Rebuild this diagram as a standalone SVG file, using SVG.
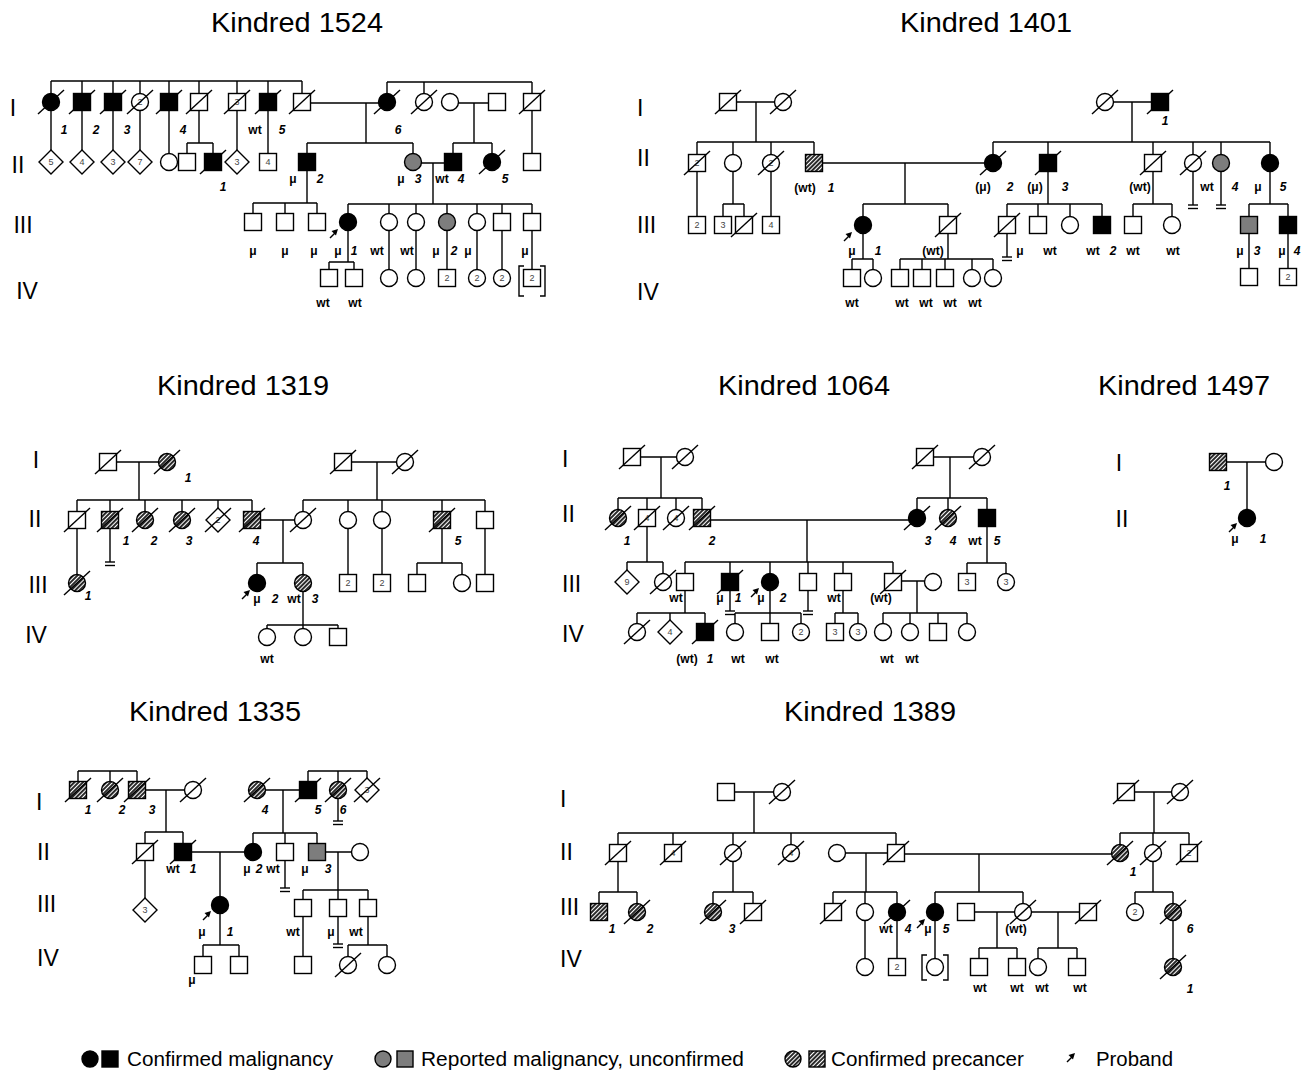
<svg xmlns="http://www.w3.org/2000/svg" width="1308" height="1078" viewBox="0 0 1308 1078">
<style>
.o{fill:#fff;stroke:#000;stroke-width:1.4}
.f{fill:#000;stroke:#000;stroke-width:1.4}
.g{fill:#7d7d7d;stroke:#000;stroke-width:1.4}
.h{fill:url(#hatch);stroke:#000;stroke-width:1.4}
.cn{fill:none;stroke:#000;stroke-width:1.4}
text{font-family:"Liberation Sans",Arial,sans-serif;fill:#000}
.tt{font-size:28px;text-anchor:middle}
.gn{font-size:23px}
.gm{font-size:23px;text-anchor:middle}
.l{font-size:12px;font-weight:bold;text-anchor:middle}
.i{font-size:12px;font-weight:bold;font-style:italic;text-anchor:middle}
.n{font-size:9px;fill:#444;text-anchor:middle}
.lg{font-size:20px}
</style>
<defs>
<pattern id="hatch" width="3" height="3" patternUnits="userSpaceOnUse" patternTransform="rotate(45)"><rect width="3" height="3" fill="#fff"/><rect width="2" height="3" fill="#2a2a2a"/></pattern>
<rect id="S" x="-8.5" y="-8.5" width="17" height="17"/>
<circle id="C" r="8.5"/>
<path id="D" d="M0,-12L12,0L0,12L-12,0Z"/>
<line id="X" x1="-13" y1="12" x2="13" y2="-12" stroke="#000" stroke-width="1.4"/>
<g id="NB" stroke="#000" stroke-width="1.4"><line x1="-5" y1="0" x2="5" y2="0"/><line x1="-5" y1="3.5" x2="5" y2="3.5"/></g>
<g id="AR"><line x1="-8" y1="9" x2="-2" y2="3" stroke="#000" stroke-width="1.4"/><path d="M0,0L-6.5,2L-2,6.5Z" fill="#000"/></g>
</defs>
<rect width="1308" height="1078" fill="#fff"/>

<g id="titles">
<text class="tt" x="297" y="32" textLength="172" lengthAdjust="spacingAndGlyphs">Kindred 1524</text>
<text class="tt" x="986" y="32" textLength="172" lengthAdjust="spacingAndGlyphs">Kindred 1401</text>
<text class="tt" x="243" y="395" textLength="172" lengthAdjust="spacingAndGlyphs">Kindred 1319</text>
<text class="tt" x="804" y="395" textLength="172" lengthAdjust="spacingAndGlyphs">Kindred 1064</text>
<text class="tt" x="1184" y="395" textLength="172" lengthAdjust="spacingAndGlyphs">Kindred 1497</text>
<text class="tt" x="215" y="721" textLength="172" lengthAdjust="spacingAndGlyphs">Kindred 1335</text>
<text class="tt" x="870" y="721" textLength="172" lengthAdjust="spacingAndGlyphs">Kindred 1389</text>
</g>

<g id="generations">
<text class="gm" x="13" y="116">I</text><text class="gm" x="18" y="173">II</text><text class="gm" x="23" y="233">III</text><text class="gm" x="27" y="299">IV</text>
<text class="gn" x="637" y="116">I</text><text class="gn" x="637" y="166">II</text><text class="gn" x="637" y="233">III</text><text class="gn" x="637" y="300">IV</text>
<text class="gm" x="36" y="468">I</text><text class="gm" x="35" y="527">II</text><text class="gm" x="38" y="593">III</text><text class="gm" x="36" y="643">IV</text>
<text class="gn" x="562" y="467">I</text><text class="gn" x="562" y="522">II</text><text class="gn" x="562" y="592">III</text><text class="gn" x="562" y="642">IV</text>
<text class="gm" x="1119" y="471">I</text><text class="gm" x="1122" y="527">II</text>
<text class="gn" x="36" y="810">I</text><text class="gn" x="37" y="860">II</text><text class="gn" x="37" y="912">III</text><text class="gn" x="37" y="966">IV</text>
<text class="gn" x="560" y="807">I</text><text class="gn" x="560" y="860">II</text><text class="gn" x="560" y="915">III</text><text class="gn" x="560" y="967">IV</text>
</g>

<g id="connectors" class="cn">
<path d="M51,81H302 M51,81V102 M82,81V102 M113,81V102 M140,81V102 M169,81V102 M199,81V102 M237,81V102 M268,81V102 M302,81V102 M51,102V162 M82,102V162 M113,102V162 M140,102V162 M169,102V162 M199,102V143 M187,143H213 M187,143V162 M213,143V162 M237,102V162 M268,102V162 M302,103H387 M366,103V143 M307,143H413 M307,143V162 M413,143V162 M387,82H532 M387,82V102 M424,82V102 M532,82V162 M450,103H497 M474,103V143 M453,143H492 M453,143V162 M492,143V162 M413,163H453 M433,163V204 M307,162V203 M253,203H317 M253,203V222 M285,203V222 M317,203V222 M348,204H532 M348,204V222 M389,204V222 M416,204V222 M447,204V222 M477,204V222 M502,204V222 M532,204V222 M348,222V262 M329,262H354 M329,262V278 M354,262V278 M389,222V278 M416,222V278 M447,222V278 M477,222V278 M502,222V278 M532,222V278"/>
<path d="M736,102H775 M756,102V142 M697,142H814 M697,142V163 M733,142V163 M771,142V163 M814,142V163 M697,163V225 M733,163V204 M723,204H744 M723,204V225 M744,204V225 M771,163V225 M814,163H993 M905,163V204 M863,204H948 M863,204V225 M948,204V225 M863,225V259 M852,259H873 M852,259V278 M873,259V278 M948,225V259 M900,259H993 M900,259V278 M922,259V278 M945,259V278 M972,259V278 M993,259V278 M1105,102H1160 M1132,102V142 M993,142H1270 M993,142V163 M1048,142V163 M1153,142V163 M1193,142V163 M1221,142V163 M1270,142V163 M1193,163V205 M1221,163V205 M1048,163V204 M1007,204H1102 M1007,204V225 M1038,204V225 M1070,204V225 M1102,204V225 M1007,225V257 M1153,163V204 M1133,204H1172 M1133,204V225 M1172,204V225 M1270,163V204 M1249,204H1288 M1249,204V225 M1288,204V225 M1249,225V277 M1288,225V277"/>
<path d="M108,462H167 M139,462V500 M77,500H252 M77,500V520 M110,500V520 M145,500V520 M182,500V520 M218,500V520 M252,500V520 M77,520V583 M110,520V562 M252,520H303 M283,520V563 M257,563H303 M257,563V583 M303,563V583 M303,583V625 M267,625H338 M267,625V637 M303,625V637 M338,625V637 M343,462H405 M377,462V500 M303,500H485 M303,500V520 M348,500V520 M382,500V520 M442,500V520 M485,500V520 M348,520V583 M382,520V583 M442,520V563 M417,563H462 M417,563V583 M462,563V583 M485,520V583"/>
<path d="M632,457H685 M661,457V498 M618,498H702 M618,498V518 M647,498V518 M676,498V518 M702,498V518 M647,518V562 M627,562H663 M627,562V582 M663,562V582 M702,520H917 M807,520V562 M685,562H893 M685,562V582 M730,562V582 M770,562V582 M808,562V582 M843,562V582 M893,562V582 M925,457H982 M950,457V498 M917,498H987 M917,498V518 M948,498V518 M987,498V518 M987,518V563 M967,563H1006 M967,563V582 M1006,563V582 M730,582V611 M808,582V611 M893,581H933 M917,581V613 M883,613H967 M883,613V632 M910,613V632 M938,613V632 M967,613V632 M685,582V613 M637,613H705 M637,613V632 M670,613V632 M705,613V632 M770,582V613 M735,613H801 M735,613V632 M770,613V632 M801,613V632 M843,582V613 M835,613H858 M835,613V632 M858,613V632"/>
<path d="M1218,462H1274 M1247,462V518"/>
<path d="M78,771H137 M78,771V790 M110,771V790 M137,771V790 M137,790H193 M166,790V832 M145,832H183 M145,832V852 M183,832V852 M145,852V910 M257,790H308 M283,790V833 M253,833H317 M253,833V852 M285,833V852 M317,833V852 M308,771H367 M308,771V790 M338,771V790 M367,771V790 M338,790V821 M183,852H253 M220,852V905 M285,852V888 M317,852H360 M338,852V890 M303,890H368 M303,890V908 M338,890V908 M368,890V908 M338,908V944 M220,905V945 M203,945H239 M203,945V965 M239,945V965 M303,908V965 M368,908V945 M348,945H387 M348,945V965 M387,945V965"/>
<path d="M726,792H782 M754,792V833 M618,833H896 M618,833V853 M673,833V853 M733,833V853 M791,833V853 M896,833V853 M618,853V892 M599,892H637 M599,892V912 M637,892V912 M733,853V892 M713,892H753 M713,892V912 M753,892V912 M837,853H896 M866,853V892 M833,892H897 M833,892V912 M865,892V912 M897,892V912 M896,854H1120 M979,854V892 M935,892H1023 M935,892V912 M1023,892V912 M865,912V967 M897,912V967 M935,912V967 M966,912H1023 M997,912V948 M979,948H1017 M979,948V967 M1017,948V967 M1023,912H1088 M1058,912V948 M1038,948H1077 M1038,948V967 M1077,948V967 M1126,792H1180 M1154,792V833 M1120,833H1189 M1120,833V853 M1153,833V853 M1189,833V853 M1153,853V892 M1135,892H1173 M1135,892V912 M1173,892V912 M1173,912V967"/>
<use href="#NB" x="1193" y="205"/><use href="#NB" x="1221" y="205"/><use href="#NB" x="1007" y="257"/>
<use href="#NB" x="110" y="562"/>
<use href="#NB" x="730" y="611"/><use href="#NB" x="808" y="611"/>
<use href="#NB" x="338" y="821"/><use href="#NB" x="285" y="888"/><use href="#NB" x="338" y="944"/>
</g>

<g id="kindred-1524">
<g id="k1524-I-1"><use href="#C" x="51" y="102" class="f"/><use href="#X" x="51" y="102"/></g>
<g id="k1524-I-2"><use href="#S" x="82" y="102" class="f"/><use href="#X" x="82" y="102"/></g>
<g id="k1524-I-3"><use href="#S" x="113" y="102" class="f"/><use href="#X" x="113" y="102"/></g>
<g id="k1524-I-a"><use href="#C" x="140" y="102" class="o"/><text class="n" x="140" y="105">2</text><use href="#X" x="140" y="102"/></g>
<g id="k1524-I-4"><use href="#S" x="169" y="102" class="f"/><use href="#X" x="169" y="102"/></g>
<g id="k1524-I-b"><use href="#S" x="199" y="102" class="o"/><use href="#X" x="199" y="102"/></g>
<g id="k1524-I-c"><use href="#S" x="237" y="102" class="o"/><text class="n" x="237" y="105">3</text><use href="#X" x="237" y="102"/></g>
<g id="k1524-I-5"><use href="#S" x="268" y="102" class="f"/><use href="#X" x="268" y="102"/></g>
<g id="k1524-I-d"><use href="#S" x="302" y="102" class="o"/><use href="#X" x="302" y="102"/></g>
<g id="k1524-I-6"><use href="#C" x="387" y="102" class="f"/><use href="#X" x="387" y="102"/></g>
<g id="k1524-I-e"><use href="#C" x="424" y="102" class="o"/><use href="#X" x="424" y="102"/></g>
<g id="k1524-I-f"><use href="#C" x="450" y="102" class="o"/></g>
<g id="k1524-I-g"><use href="#S" x="497" y="102" class="o"/></g>
<g id="k1524-I-h"><use href="#S" x="532" y="102" class="o"/><use href="#X" x="532" y="102"/></g>
<g id="k1524-II-a"><use href="#D" x="51" y="162" class="o"/><text class="n" x="51" y="165">5</text></g>
<g id="k1524-II-b"><use href="#D" x="82" y="162" class="o"/><text class="n" x="82" y="165">4</text></g>
<g id="k1524-II-c"><use href="#D" x="113" y="162" class="o"/><text class="n" x="113" y="165">3</text></g>
<g id="k1524-II-d"><use href="#D" x="140" y="162" class="o"/><text class="n" x="140" y="165">7</text></g>
<g id="k1524-II-e"><use href="#C" x="169" y="162" class="o"/></g>
<g id="k1524-II-f"><use href="#S" x="187" y="162" class="o"/></g>
<g id="k1524-II-1"><use href="#S" x="213" y="162" class="f"/><use href="#X" x="213" y="162"/></g>
<g id="k1524-II-g"><use href="#D" x="237" y="162" class="o"/><text class="n" x="237" y="165">3</text></g>
<g id="k1524-II-h"><use href="#S" x="268" y="162" class="o"/><text class="n" x="268" y="165">4</text></g>
<g id="k1524-II-2"><use href="#S" x="307" y="162" class="f"/></g>
<g id="k1524-II-3"><use href="#C" x="413" y="162" class="g"/></g>
<g id="k1524-II-4"><use href="#S" x="453" y="162" class="f"/></g>
<g id="k1524-II-5"><use href="#C" x="492" y="162" class="f"/><use href="#X" x="492" y="162"/></g>
<g id="k1524-II-i"><use href="#S" x="532" y="162" class="o"/></g>
<g id="k1524-III-a"><use href="#S" x="253" y="222" class="o"/></g>
<g id="k1524-III-b"><use href="#S" x="285" y="222" class="o"/></g>
<g id="k1524-III-c"><use href="#S" x="317" y="222" class="o"/></g>
<g id="k1524-III-1"><use href="#C" x="348" y="222" class="f"/><use href="#AR" x="338" y="229"/></g>
<g id="k1524-III-d"><use href="#C" x="389" y="222" class="o"/></g>
<g id="k1524-III-e"><use href="#C" x="416" y="222" class="o"/></g>
<g id="k1524-III-2"><use href="#C" x="447" y="222" class="g"/></g>
<g id="k1524-III-f"><use href="#C" x="477" y="222" class="o"/></g>
<g id="k1524-III-g"><use href="#S" x="502" y="222" class="o"/></g>
<g id="k1524-III-h"><use href="#S" x="532" y="222" class="o"/></g>
<g id="k1524-IV-a"><use href="#S" x="329" y="278" class="o"/></g>
<g id="k1524-IV-b"><use href="#S" x="354" y="278" class="o"/></g>
<g id="k1524-IV-c"><use href="#C" x="389" y="278" class="o"/></g>
<g id="k1524-IV-d"><use href="#C" x="416" y="278" class="o"/></g>
<g id="k1524-IV-e"><use href="#S" x="447" y="278" class="o"/><text class="n" x="447" y="281">2</text></g>
<g id="k1524-IV-f"><use href="#C" x="477" y="278" class="o"/><text class="n" x="477" y="281">2</text></g>
<g id="k1524-IV-g"><use href="#C" x="502" y="278" class="o"/><text class="n" x="502" y="281">2</text></g>
<g id="k1524-IV-h"><use href="#S" x="532" y="278" class="o"/><text class="n" x="532" y="281">2</text><path class="cn" d="M524,266H519V296H524 M540,266H545V296H540"/></g>
<g id="k1524-labels">
<text class="i" x="64" y="134">1</text><text class="i" x="96" y="134">2</text><text class="i" x="127" y="134">3</text><text class="i" x="183" y="134">4</text><text class="l" x="255" y="134">wt</text><text class="i" x="282" y="134">5</text><text class="i" x="398" y="134">6</text>
<text class="i" x="223" y="191">1</text><text class="l" x="293" y="183">μ</text><text class="i" x="320" y="183">2</text><text class="l" x="401" y="183">μ</text><text class="i" x="418" y="183">3</text><text class="l" x="442" y="183">wt</text><text class="i" x="461" y="183">4</text><text class="i" x="505" y="183">5</text>
<text class="l" x="253" y="255">μ</text><text class="l" x="285" y="255">μ</text><text class="l" x="314" y="255">μ</text><text class="l" x="338" y="255">μ</text><text class="i" x="354" y="255">1</text><text class="l" x="377" y="255">wt</text><text class="l" x="407" y="255">wt</text><text class="l" x="436" y="255">μ</text><text class="i" x="454" y="255">2</text><text class="l" x="468" y="255">μ</text><text class="l" x="525" y="255">μ</text>
<text class="l" x="323" y="307">wt</text><text class="l" x="355" y="307">wt</text>
</g>
</g>

<g id="kindred-1401">
<g id="k1401-I-a"><use href="#S" x="728" y="102" class="o"/><use href="#X" x="728" y="102"/></g>
<g id="k1401-I-b"><use href="#C" x="783" y="102" class="o"/><use href="#X" x="783" y="102"/></g>
<g id="k1401-I-c"><use href="#C" x="1105" y="102" class="o"/><use href="#X" x="1105" y="102"/></g>
<g id="k1401-I-1"><use href="#S" x="1160" y="102" class="f"/><use href="#X" x="1160" y="102"/></g>
<g id="k1401-II-a"><use href="#S" x="697" y="163" class="o"/><text class="n" x="697" y="166">2</text><use href="#X" x="697" y="163"/></g>
<g id="k1401-II-b"><use href="#C" x="733" y="163" class="o"/></g>
<g id="k1401-II-c"><use href="#C" x="771" y="163" class="o"/><text class="n" x="771" y="166">2</text><use href="#X" x="771" y="163"/></g>
<g id="k1401-II-1"><use href="#S" x="814" y="163" class="h"/></g>
<g id="k1401-II-2"><use href="#C" x="993" y="163" class="f"/><use href="#X" x="993" y="163"/></g>
<g id="k1401-II-3"><use href="#S" x="1048" y="163" class="f"/><use href="#X" x="1048" y="163"/></g>
<g id="k1401-II-d"><use href="#S" x="1153" y="163" class="o"/><use href="#X" x="1153" y="163"/></g>
<g id="k1401-II-e"><use href="#C" x="1193" y="163" class="o"/><use href="#X" x="1193" y="163"/></g>
<g id="k1401-II-4"><use href="#C" x="1221" y="163" class="g"/></g>
<g id="k1401-II-5"><use href="#C" x="1270" y="163" class="f"/></g>
<g id="k1401-III-a"><use href="#S" x="697" y="225" class="o"/><text class="n" x="697" y="228">2</text></g>
<g id="k1401-III-b"><use href="#S" x="723" y="225" class="o"/><text class="n" x="723" y="228">3</text></g>
<g id="k1401-III-c"><use href="#S" x="744" y="225" class="o"/><use href="#X" x="744" y="225"/></g>
<g id="k1401-III-d"><use href="#S" x="771" y="225" class="o"/><text class="n" x="771" y="228">4</text></g>
<g id="k1401-III-1"><use href="#C" x="863" y="225" class="f"/><use href="#AR" x="852" y="232"/></g>
<g id="k1401-III-e"><use href="#S" x="948" y="225" class="o"/><use href="#X" x="948" y="225"/></g>
<g id="k1401-III-f"><use href="#S" x="1007" y="225" class="o"/><use href="#X" x="1007" y="225"/></g>
<g id="k1401-III-g"><use href="#S" x="1038" y="225" class="o"/></g>
<g id="k1401-III-h"><use href="#C" x="1070" y="225" class="o"/></g>
<g id="k1401-III-2"><use href="#S" x="1102" y="225" class="f"/></g>
<g id="k1401-III-i"><use href="#S" x="1133" y="225" class="o"/></g>
<g id="k1401-III-j"><use href="#C" x="1172" y="225" class="o"/></g>
<g id="k1401-III-3"><use href="#S" x="1249" y="225" class="g"/></g>
<g id="k1401-III-4"><use href="#S" x="1288" y="225" class="f"/></g>
<g id="k1401-IV-a"><use href="#S" x="852" y="278" class="o"/></g>
<g id="k1401-IV-b"><use href="#C" x="873" y="278" class="o"/></g>
<g id="k1401-IV-c"><use href="#S" x="900" y="278" class="o"/></g>
<g id="k1401-IV-d"><use href="#S" x="922" y="278" class="o"/></g>
<g id="k1401-IV-e"><use href="#S" x="945" y="278" class="o"/></g>
<g id="k1401-IV-f"><use href="#C" x="972" y="278" class="o"/></g>
<g id="k1401-IV-g"><use href="#C" x="993" y="278" class="o"/></g>
<g id="k1401-IV-h"><use href="#S" x="1249" y="277" class="o"/></g>
<g id="k1401-IV-i"><use href="#S" x="1288" y="277" class="o"/><text class="n" x="1288" y="280">2</text></g>
<g id="k1401-labels">
<text class="l" x="805" y="192">(wt)</text><text class="i" x="831" y="192">1</text><text class="i" x="1165" y="125">1</text>
<text class="l" x="983" y="191">(μ)</text><text class="i" x="1010" y="191">2</text><text class="l" x="1035" y="191">(μ)</text><text class="i" x="1065" y="191">3</text><text class="l" x="1140" y="191">(wt)</text><text class="l" x="1207" y="191">wt</text><text class="i" x="1235" y="191">4</text><text class="l" x="1258" y="191">μ</text><text class="i" x="1283" y="191">5</text>
<text class="l" x="852" y="255">μ</text><text class="i" x="878" y="255">1</text><text class="l" x="933" y="255">(wt)</text><text class="l" x="1020" y="255">μ</text><text class="l" x="1050" y="255">wt</text><text class="l" x="1093" y="255">wt</text><text class="i" x="1113" y="255">2</text><text class="l" x="1133" y="255">wt</text><text class="l" x="1173" y="255">wt</text><text class="l" x="1240" y="255">μ</text><text class="i" x="1257" y="255">3</text><text class="l" x="1282" y="255">μ</text><text class="i" x="1297" y="255">4</text>
<text class="l" x="852" y="307">wt</text><text class="l" x="902" y="307">wt</text><text class="l" x="926" y="307">wt</text><text class="l" x="950" y="307">wt</text><text class="l" x="975" y="307">wt</text>
</g>
</g>

<g id="kindred-1319">
<g id="k1319-I-a"><use href="#S" x="108" y="462" class="o"/><use href="#X" x="108" y="462"/></g>
<g id="k1319-I-1"><use href="#C" x="167" y="462" class="h"/><use href="#X" x="167" y="462"/></g>
<g id="k1319-I-b"><use href="#S" x="343" y="462" class="o"/><use href="#X" x="343" y="462"/></g>
<g id="k1319-I-c"><use href="#C" x="405" y="462" class="o"/><use href="#X" x="405" y="462"/></g>
<g id="k1319-II-a"><use href="#S" x="77" y="520" class="o"/><use href="#X" x="77" y="520"/></g>
<g id="k1319-II-1"><use href="#S" x="110" y="520" class="h"/><use href="#X" x="110" y="520"/></g>
<g id="k1319-II-2"><use href="#C" x="145" y="520" class="h"/><use href="#X" x="145" y="520"/></g>
<g id="k1319-II-3"><use href="#C" x="182" y="520" class="h"/><use href="#X" x="182" y="520"/></g>
<g id="k1319-II-b"><use href="#D" x="218" y="520" class="o"/><text class="n" x="218" y="523">2</text><use href="#X" x="218" y="520"/></g>
<g id="k1319-II-4"><use href="#S" x="252" y="520" class="h"/><use href="#X" x="252" y="520"/></g>
<g id="k1319-II-c"><use href="#C" x="303" y="520" class="o"/><use href="#X" x="303" y="520"/></g>
<g id="k1319-II-d"><use href="#C" x="348" y="520" class="o"/></g>
<g id="k1319-II-e"><use href="#C" x="382" y="520" class="o"/></g>
<g id="k1319-II-5"><use href="#S" x="442" y="520" class="h"/><use href="#X" x="442" y="520"/></g>
<g id="k1319-II-f"><use href="#S" x="485" y="520" class="o"/></g>
<g id="k1319-III-1"><use href="#C" x="77" y="583" class="h"/><use href="#X" x="77" y="583"/></g>
<g id="k1319-III-2"><use href="#C" x="257" y="583" class="f"/><use href="#AR" x="250" y="590"/></g>
<g id="k1319-III-3"><use href="#C" x="303" y="583" class="h"/></g>
<g id="k1319-III-a"><use href="#S" x="348" y="583" class="o"/><text class="n" x="348" y="586">2</text></g>
<g id="k1319-III-b"><use href="#S" x="382" y="583" class="o"/><text class="n" x="382" y="586">2</text></g>
<g id="k1319-III-c"><use href="#S" x="417" y="583" class="o"/></g>
<g id="k1319-III-d"><use href="#C" x="462" y="583" class="o"/></g>
<g id="k1319-III-e"><use href="#S" x="485" y="583" class="o"/></g>
<g id="k1319-IV-a"><use href="#C" x="267" y="637" class="o"/></g>
<g id="k1319-IV-b"><use href="#C" x="303" y="637" class="o"/></g>
<g id="k1319-IV-c"><use href="#S" x="338" y="637" class="o"/></g>
<g id="k1319-labels">
<text class="i" x="188" y="482">1</text><text class="i" x="126" y="545">1</text><text class="i" x="154" y="545">2</text><text class="i" x="189" y="545">3</text><text class="i" x="256" y="545">4</text><text class="i" x="458" y="545">5</text>
<text class="i" x="88" y="600">1</text><text class="l" x="257" y="603">μ</text><text class="i" x="275" y="603">2</text><text class="l" x="294" y="603">wt</text><text class="i" x="315" y="603">3</text>
<text class="l" x="267" y="663">wt</text>
</g>
</g>

<g id="kindred-1064">
<g id="k1064-I-a"><use href="#S" x="632" y="457" class="o"/><use href="#X" x="632" y="457"/></g>
<g id="k1064-I-b"><use href="#C" x="685" y="457" class="o"/><use href="#X" x="685" y="457"/></g>
<g id="k1064-I-c"><use href="#S" x="925" y="457" class="o"/><use href="#X" x="925" y="457"/></g>
<g id="k1064-I-d"><use href="#C" x="982" y="457" class="o"/><use href="#X" x="982" y="457"/></g>
<g id="k1064-II-1"><use href="#C" x="618" y="518" class="h"/><use href="#X" x="618" y="518"/></g>
<g id="k1064-II-a"><use href="#S" x="647" y="518" class="o"/><text class="n" x="647" y="521">4</text><use href="#X" x="647" y="518"/></g>
<g id="k1064-II-b"><use href="#C" x="676" y="518" class="o"/><text class="n" x="676" y="521">4</text><use href="#X" x="676" y="518"/></g>
<g id="k1064-II-2"><use href="#S" x="702" y="518" class="h"/><use href="#X" x="702" y="518"/></g>
<g id="k1064-II-3"><use href="#C" x="917" y="518" class="f"/><use href="#X" x="917" y="518"/></g>
<g id="k1064-II-4"><use href="#C" x="948" y="518" class="h"/><use href="#X" x="948" y="518"/></g>
<g id="k1064-II-5"><use href="#S" x="987" y="518" class="f"/></g>
<g id="k1064-III-a"><use href="#D" x="627" y="582" class="o"/><text class="n" x="627" y="585">9</text></g>
<g id="k1064-III-b"><use href="#C" x="663" y="582" class="o"/><use href="#X" x="663" y="582"/></g>
<g id="k1064-III-c"><use href="#S" x="685" y="582" class="o"/></g>
<g id="k1064-III-1"><use href="#S" x="730" y="582" class="f"/><use href="#X" x="730" y="582"/></g>
<g id="k1064-III-2"><use href="#C" x="770" y="582" class="f"/><use href="#AR" x="759" y="588"/></g>
<g id="k1064-III-d"><use href="#S" x="808" y="582" class="o"/></g>
<g id="k1064-III-e"><use href="#S" x="843" y="582" class="o"/></g>
<g id="k1064-III-f"><use href="#S" x="893" y="582" class="o"/><use href="#X" x="893" y="582"/></g>
<g id="k1064-III-g"><use href="#C" x="933" y="582" class="o"/></g>
<g id="k1064-III-h"><use href="#S" x="967" y="582" class="o"/><text class="n" x="967" y="585">3</text></g>
<g id="k1064-III-i"><use href="#C" x="1006" y="582" class="o"/><text class="n" x="1006" y="585">3</text></g>
<g id="k1064-IV-a"><use href="#C" x="637" y="632" class="o"/><use href="#X" x="637" y="632"/></g>
<g id="k1064-IV-b"><use href="#D" x="670" y="632" class="o"/><text class="n" x="670" y="635">4</text></g>
<g id="k1064-IV-1"><use href="#S" x="705" y="632" class="f"/><use href="#X" x="705" y="632"/></g>
<g id="k1064-IV-c"><use href="#C" x="735" y="632" class="o"/></g>
<g id="k1064-IV-d"><use href="#S" x="770" y="632" class="o"/></g>
<g id="k1064-IV-e"><use href="#C" x="801" y="632" class="o"/><text class="n" x="801" y="635">2</text></g>
<g id="k1064-IV-f"><use href="#S" x="835" y="632" class="o"/><text class="n" x="835" y="635">3</text></g>
<g id="k1064-IV-g"><use href="#C" x="858" y="632" class="o"/><text class="n" x="858" y="635">3</text></g>
<g id="k1064-IV-h"><use href="#C" x="883" y="632" class="o"/></g>
<g id="k1064-IV-i"><use href="#C" x="910" y="632" class="o"/></g>
<g id="k1064-IV-j"><use href="#S" x="938" y="632" class="o"/></g>
<g id="k1064-IV-k"><use href="#C" x="967" y="632" class="o"/></g>
<g id="k1064-labels">
<text class="i" x="627" y="545">1</text><text class="i" x="712" y="545">2</text><text class="i" x="928" y="545">3</text><text class="i" x="953" y="545">4</text><text class="l" x="975" y="545">wt</text><text class="i" x="997" y="545">5</text>
<text class="l" x="676" y="602">wt</text><text class="l" x="720" y="602">μ</text><text class="i" x="738" y="602">1</text><text class="l" x="761" y="602">μ</text><text class="i" x="783" y="602">2</text><text class="l" x="834" y="602">wt</text><text class="l" x="881" y="602">(wt)</text>
<text class="l" x="687" y="663">(wt)</text><text class="i" x="710" y="663">1</text><text class="l" x="738" y="663">wt</text><text class="l" x="772" y="663">wt</text><text class="l" x="887" y="663">wt</text><text class="l" x="912" y="663">wt</text>
</g>
</g>

<g id="kindred-1497">
<g id="k1497-I-1"><use href="#S" x="1218" y="462" class="h"/></g>
<g id="k1497-I-a"><use href="#C" x="1274" y="462" class="o"/></g>
<g id="k1497-II-1"><use href="#C" x="1247" y="518" class="f"/><use href="#AR" x="1237" y="523"/></g>
<g id="k1497-labels"><text class="i" x="1227" y="490">1</text><text class="l" x="1235" y="543">μ</text><text class="i" x="1263" y="543">1</text></g>
</g>

<g id="kindred-1335">
<g id="k1335-I-1"><use href="#S" x="78" y="790" class="h"/><use href="#X" x="78" y="790"/></g>
<g id="k1335-I-2"><use href="#C" x="110" y="790" class="h"/><use href="#X" x="110" y="790"/></g>
<g id="k1335-I-3"><use href="#S" x="137" y="790" class="h"/><use href="#X" x="137" y="790"/></g>
<g id="k1335-I-a"><use href="#C" x="193" y="790" class="o"/><use href="#X" x="193" y="790"/></g>
<g id="k1335-I-4"><use href="#C" x="257" y="790" class="h"/><use href="#X" x="257" y="790"/></g>
<g id="k1335-I-5"><use href="#S" x="308" y="790" class="f"/><use href="#X" x="308" y="790"/></g>
<g id="k1335-I-6"><use href="#C" x="338" y="790" class="h"/><use href="#X" x="338" y="790"/></g>
<g id="k1335-I-b"><use href="#D" x="367" y="790" class="o"/><text class="n" x="367" y="793">3</text><use href="#X" x="367" y="790"/></g>
<g id="k1335-II-a"><use href="#S" x="145" y="852" class="o"/><use href="#X" x="145" y="852"/></g>
<g id="k1335-II-1"><use href="#S" x="183" y="852" class="f"/><use href="#X" x="183" y="852"/></g>
<g id="k1335-II-2"><use href="#C" x="253" y="852" class="f"/></g>
<g id="k1335-II-b"><use href="#S" x="285" y="852" class="o"/></g>
<g id="k1335-II-3"><use href="#S" x="317" y="852" class="g"/></g>
<g id="k1335-II-c"><use href="#C" x="360" y="852" class="o"/></g>
<g id="k1335-III-a"><use href="#D" x="145" y="910" class="o"/><text class="n" x="145" y="913">3</text></g>
<g id="k1335-III-1"><use href="#C" x="220" y="905" class="f"/><use href="#AR" x="211" y="911"/></g>
<g id="k1335-III-b"><use href="#S" x="303" y="908" class="o"/></g>
<g id="k1335-III-c"><use href="#S" x="338" y="908" class="o"/></g>
<g id="k1335-III-d"><use href="#S" x="368" y="908" class="o"/></g>
<g id="k1335-IV-a"><use href="#S" x="203" y="965" class="o"/></g>
<g id="k1335-IV-b"><use href="#S" x="239" y="965" class="o"/></g>
<g id="k1335-IV-c"><use href="#S" x="303" y="965" class="o"/></g>
<g id="k1335-IV-d"><use href="#C" x="348" y="965" class="o"/><use href="#X" x="348" y="965"/></g>
<g id="k1335-IV-e"><use href="#C" x="387" y="965" class="o"/></g>
<g id="k1335-labels">
<text class="i" x="88" y="814">1</text><text class="i" x="122" y="814">2</text><text class="i" x="152" y="814">3</text><text class="i" x="265" y="814">4</text><text class="i" x="318" y="814">5</text><text class="i" x="343" y="814">6</text>
<text class="l" x="173" y="873">wt</text><text class="i" x="193" y="873">1</text><text class="l" x="247" y="873">μ</text><text class="i" x="259" y="873">2</text><text class="l" x="273" y="873">wt</text><text class="l" x="305" y="873">μ</text><text class="i" x="328" y="873">3</text>
<text class="l" x="202" y="936">μ</text><text class="i" x="230" y="936">1</text><text class="l" x="293" y="936">wt</text><text class="l" x="331" y="936">μ</text><text class="l" x="356" y="936">wt</text>
<text class="l" x="192" y="984">μ</text>
</g>
</g>

<g id="kindred-1389">
<g id="k1389-I-a"><use href="#S" x="726" y="792" class="o"/></g>
<g id="k1389-I-b"><use href="#C" x="782" y="792" class="o"/><use href="#X" x="782" y="792"/></g>
<g id="k1389-I-c"><use href="#S" x="1126" y="792" class="o"/><use href="#X" x="1126" y="792"/></g>
<g id="k1389-I-d"><use href="#C" x="1180" y="792" class="o"/><use href="#X" x="1180" y="792"/></g>
<g id="k1389-II-a"><use href="#S" x="618" y="853" class="o"/><use href="#X" x="618" y="853"/></g>
<g id="k1389-II-b"><use href="#S" x="673" y="853" class="o"/><text class="n" x="673" y="856">4</text><use href="#X" x="673" y="853"/></g>
<g id="k1389-II-c"><use href="#C" x="733" y="853" class="o"/><use href="#X" x="733" y="853"/></g>
<g id="k1389-II-d"><use href="#C" x="791" y="853" class="o"/><text class="n" x="791" y="856">4</text><use href="#X" x="791" y="853"/></g>
<g id="k1389-II-e"><use href="#C" x="837" y="853" class="o"/></g>
<g id="k1389-II-f"><use href="#S" x="896" y="853" class="o"/><use href="#X" x="896" y="853"/></g>
<g id="k1389-II-g"><use href="#C" x="1120" y="853" class="h"/><use href="#X" x="1120" y="853"/></g>
<g id="k1389-II-1"><use href="#C" x="1153" y="853" class="o"/><use href="#X" x="1153" y="853"/></g>
<g id="k1389-II-h"><use href="#S" x="1189" y="853" class="o"/><text class="n" x="1189" y="856">2</text><use href="#X" x="1189" y="853"/></g>
<g id="k1389-III-1"><use href="#S" x="599" y="912" class="h"/></g>
<g id="k1389-III-2"><use href="#C" x="637" y="912" class="h"/><use href="#X" x="637" y="912"/></g>
<g id="k1389-III-3"><use href="#C" x="713" y="912" class="h"/><use href="#X" x="713" y="912"/></g>
<g id="k1389-III-a"><use href="#S" x="753" y="912" class="o"/><use href="#X" x="753" y="912"/></g>
<g id="k1389-III-b"><use href="#S" x="833" y="912" class="o"/><use href="#X" x="833" y="912"/></g>
<g id="k1389-III-c"><use href="#C" x="865" y="912" class="o"/></g>
<g id="k1389-III-4"><use href="#C" x="897" y="912" class="f"/><use href="#X" x="897" y="912"/></g>
<g id="k1389-III-5"><use href="#C" x="935" y="912" class="f"/><use href="#AR" x="925" y="919"/></g>
<g id="k1389-III-d"><use href="#S" x="966" y="912" class="o"/></g>
<g id="k1389-III-e"><use href="#C" x="1023" y="912" class="o"/><use href="#X" x="1023" y="912"/></g>
<g id="k1389-III-f"><use href="#S" x="1088" y="912" class="o"/><use href="#X" x="1088" y="912"/></g>
<g id="k1389-III-g"><use href="#C" x="1135" y="912" class="o"/><text class="n" x="1135" y="915">2</text></g>
<g id="k1389-III-6"><use href="#C" x="1173" y="912" class="h"/><use href="#X" x="1173" y="912"/></g>
<g id="k1389-IV-a"><use href="#C" x="865" y="967" class="o"/></g>
<g id="k1389-IV-b"><use href="#S" x="897" y="967" class="o"/><text class="n" x="897" y="970">2</text></g>
<g id="k1389-IV-c"><use href="#C" x="935" y="967" class="o"/><path class="cn" d="M927,955H922V980H927 M943,955H948V980H943"/></g>
<g id="k1389-IV-d"><use href="#S" x="979" y="967" class="o"/></g>
<g id="k1389-IV-e"><use href="#S" x="1017" y="967" class="o"/></g>
<g id="k1389-IV-f"><use href="#C" x="1038" y="967" class="o"/></g>
<g id="k1389-IV-g"><use href="#S" x="1077" y="967" class="o"/></g>
<g id="k1389-IV-1"><use href="#C" x="1173" y="967" class="h"/><use href="#X" x="1173" y="967"/></g>
<g id="k1389-labels">
<text class="i" x="1133" y="876">1</text>
<text class="i" x="612" y="933">1</text><text class="i" x="650" y="933">2</text><text class="i" x="732" y="933">3</text><text class="l" x="886" y="933">wt</text><text class="i" x="908" y="933">4</text><text class="l" x="928" y="933">μ</text><text class="i" x="946" y="933">5</text><text class="l" x="1016" y="933">(wt)</text><text class="i" x="1190" y="933">6</text>
<text class="l" x="980" y="992">wt</text><text class="l" x="1017" y="992">wt</text><text class="l" x="1042" y="992">wt</text><text class="l" x="1080" y="992">wt</text><text class="i" x="1190" y="993">1</text>
</g>
</g>

<g id="legend">
<circle cx="90" cy="1059" r="8" class="f"/><rect x="102" y="1051" width="16" height="16" class="f"/>
<text class="lg" x="127" y="1066" textLength="206" lengthAdjust="spacingAndGlyphs">Confirmed malignancy</text>
<circle cx="383" cy="1059" r="8" class="g"/><rect x="397" y="1051" width="16" height="16" class="g"/>
<text class="lg" x="421" y="1066" textLength="323" lengthAdjust="spacingAndGlyphs">Reported malignancy, unconfirmed</text>
<circle cx="793" cy="1059" r="8" class="h"/><rect x="809" y="1051" width="16" height="16" class="h"/>
<text class="lg" x="831" y="1066" textLength="193" lengthAdjust="spacingAndGlyphs">Confirmed precancer</text>
<use href="#AR" x="1075" y="1053"/>
<text class="lg" x="1096" y="1066" textLength="77" lengthAdjust="spacingAndGlyphs">Proband</text>
</g>
</svg>
